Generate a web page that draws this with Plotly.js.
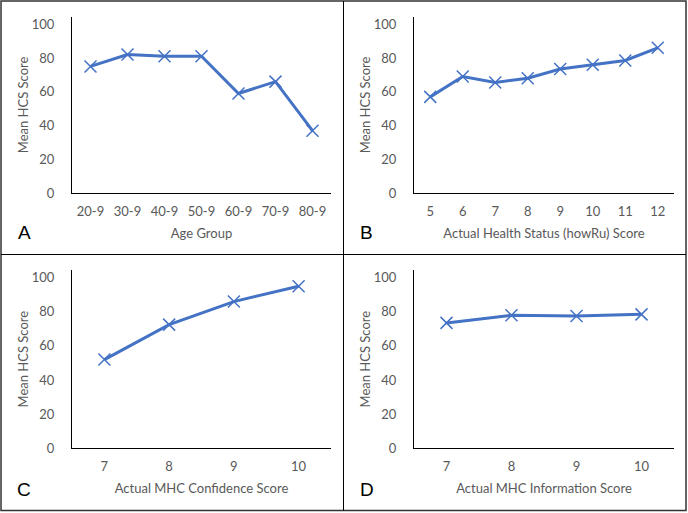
<!DOCTYPE html>
<html>
<head>
<meta charset="utf-8">
<script src="https://cdn.plot.ly/plotly-3.0.1.min.js"></script>
<style>html,body{margin:0;padding:0;background:#fff;}#chart{width:688px;height:513px;}</style>
</head>
<body>
<div id="chart"></div>
<script>
// Data
const ageGroups = ["20-9", "30-9", "40-9", "50-9", "60-9", "70-9", "80-9"];
const ageScores = [75, 82, 81, 81, 59, 66, 37];

const healthStatus = ["5", "6", "7", "8", "9", "10", "11", "12"];
const healthScores = [57, 69, 65.5, 68, 73.5, 76, 78.5, 86];

const confidence = ["7", "8", "9", "10"];
const confidenceScores = [52, 72.5, 86, 95];

const information = ["7", "8", "9", "10"];
const informationScores = [73.5, 78, 77.5, 78.5];

const yTitle = "Mean HCS Score";
const xTitles = ["Age Group", "Actual Health Status (howRu) Score", "Actual MHC Confidence Score", "Actual MHC Information Score"];
const panelLetters = ["A", "B", "C", "D"];

const W = 688, H = 513;
const px = x => x / W;
const py = y => 1 - y / H;

const blue = "#4472C4";
const tickFont = {family: "Lato, 'Open Sans', sans-serif", size: 13, color: "#595959"};

function trace(xs, ys, n) {
  return {
    type: "scatter", mode: "lines+markers",
    x: xs, y: ys,
    xaxis: "x" + (n === 1 ? "" : n), yaxis: "y" + (n === 1 ? "" : n),
    line: {color: blue, width: 3},
    marker: {symbol: "x-thin-open", size: 12, color: blue, line: {color: blue, width: 1.5}},
    hoverinfo: "x+y", showlegend: false
  };
}

const data = [
  trace(ageGroups, ageScores, 1),
  trace(healthStatus, healthScores, 2),
  trace(confidence, confidenceScores, 3),
  trace(information, informationScores, 4)
];

function xax(domain, title, nCat) {
  return {
    domain: domain, type: "category", range: [-0.5, nCat - 0.5],
    showline: true, linecolor: "#000", linewidth: 1, showgrid: false, zeroline: false,
    ticks: "", tickfont: tickFont, ticklabelstandoff: 6,
    title: {text: title, font: tickFont, standoff: 10},
    fixedrange: true
  };
}
function yax(domain) {
  return {
    domain: domain, range: [0, 104.5], tickvals: [0, 20, 40, 60, 80, 100],
    showline: true, linecolor: "#000", linewidth: 1, showgrid: false, zeroline: false,
    ticks: "", tickfont: tickFont, ticklabelstandoff: 14,
    title: {text: yTitle, font: tickFont, standoff: 0},
    fixedrange: true
  };
}

const leftX = [px(72), px(331)];
const rightX = [px(414), px(674)];
const topY = [py(193.3), py(16.5)];
const botY = [py(448.3), py(270)];

const layout = {
  width: W, height: H,
  margin: {l: 0, r: 0, t: 0, b: 0},
  paper_bgcolor: "#fff", plot_bgcolor: "#fff",
  font: tickFont,
  xaxis: Object.assign(xax(leftX, xTitles[0], ageGroups.length), {anchor: "y"}),
  yaxis: Object.assign(yax(topY), {anchor: "x"}),
  xaxis2: Object.assign(xax(rightX, xTitles[1], healthStatus.length), {anchor: "y2"}),
  yaxis2: Object.assign(yax(topY), {anchor: "x2"}),
  xaxis3: Object.assign(xax(leftX, xTitles[2], confidence.length), {anchor: "y3"}),
  yaxis3: Object.assign(yax(botY), {anchor: "x3"}),
  xaxis4: Object.assign(xax(rightX, xTitles[3], information.length), {anchor: "y4"}),
  yaxis4: Object.assign(yax(botY), {anchor: "x4"}),
  shapes: [
    {type: "rect", xref: "paper", yref: "paper", x0: px(1), x1: px(686), y0: py(510.5), y1: py(1), line: {color: "#333", width: 1.5}},
    {type: "line", xref: "paper", yref: "paper", x0: px(343.5), x1: px(343.5), y0: py(510.5), y1: py(1), line: {color: "#000", width: 1}},
    {type: "line", xref: "paper", yref: "paper", x0: px(1), x1: px(686), y0: py(254.5), y1: py(254.5), line: {color: "#000", width: 1}}
  ],
  annotations: panelLetters.map((t, i) => ({
    text: t, xref: "paper", yref: "paper", showarrow: false,
    x: px(i % 2 === 0 ? 24 : 367), y: py(i < 2 ? 232 : 489),
    xanchor: "center", yanchor: "middle",
    font: {family: "'Liberation Sans', Arial, sans-serif", size: 19, color: "#000"}
  }))
};

Plotly.newPlot("chart", data, layout, {displayModeBar: false, staticPlot: true});
</script>
</body>
</html>
